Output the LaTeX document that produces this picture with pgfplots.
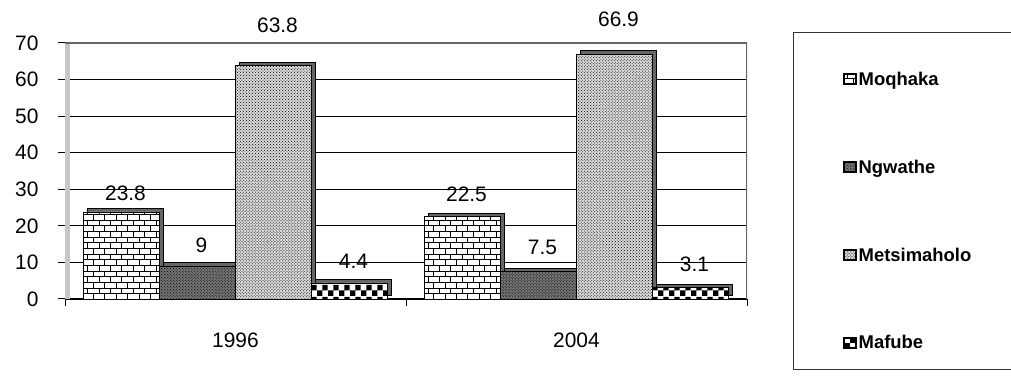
\documentclass[border=0pt]{standalone}
\usepackage{pgfplots}
\pgfplotsset{compat=1.18}
\usepackage{pgfplotstable}
\usepackage{fontspec}
\setmainfont{Liberation Sans}
\usetikzlibrary{patterns,shadows}

\pgfplotstableread{
x y dy
0 23.8 19
1 22.5 22
}\moq
\pgfplotstableread{
x y dy
0 9 21
1 7.5 24
}\ngw
\pgfplotstableread{
x y dy
0 63.8 40
1 66.9 35
}\met
\pgfplotstableread{
x y dy
0 4.4 22
1 3.1 23
}\maf

\makeatletter
\tikzset{no preactions/.code={\let\tikz@preactions\pgfutil@empty}}
\makeatother
\tikzset{
  barshade/.style={general shadow={fill=black!60, shadow xshift=3.5bp, shadow yshift=3.5bp}, draw=black, line width=0.8bp}
}
\pgfplotsset{
  legimg/.style 2 args={legend image code/.code={\draw[no preactions, preaction={fill=#1}, pattern=#2, draw=black, line width=2bp] (0bp,-5bp) rectangle (12bp,5bp);}}
}

\begin{document}
\begin{tikzpicture}
\useasboundingbox (0,0) rectangle (1011bp,376bp);
\begin{axis}[
  at={(65bp,77bp)}, anchor=south west,
  width=682bp, height=256bp, scale only axis,
  xmin=-0.5, xmax=1.5, ymin=0, ymax=70,
  ybar=0pt, bar width=76bp,
  /pgf/number format/assume math mode=true,
  font=\fontsize{21}{23}\selectfont,
  axis x line*=bottom, axis y line*=left,
  axis line style={black, line width=1bp},
  xtick={-0.5,0.5,1.5}, xticklabels={},
  extra x ticks={0,1}, extra x tick labels={1996,2004},
  extra x tick style={major tick length=0pt, tick label style={yshift=-30bp}},
  ytick={0,10,...,70},
  tick align=outside, major tick length=7bp,
  tick style={black, line width=1bp},
  yticklabel style={xshift=-16bp},
  ymajorgrids, major grid style={black, line width=1.2bp},
  nodes near coords,
  visualization depends on={\thisrow{dy} \as \dy},
  every node near coord/.append style={anchor=center, yshift=\dy bp, xshift=4bp, font=\fontsize{21}{23}\selectfont},
  legend style={at={(axis description cs:1.14,0.895)}, anchor=north west, draw=none, fill=none,
    row sep=69bp, font=\bfseries\fontsize{18.5}{20}\selectfont, inner sep=0pt, cells={anchor=west}},
]
\fill[gray!45] (rel axis cs:0,0) rectangle ([xshift=5bp]rel axis cs:0,1);
\draw[gray!80!black, line width=1.5bp] (rel axis cs:0,1) -- (rel axis cs:1,1) -- (rel axis cs:1,0);
\addplot[barshade, preaction={fill=white}, pattern=bricks, legimg={white}{bricks}] table[x=x,y=y] {\moq};
\addlegendentry{Moqhaka}
\addplot[barshade, preaction={fill=black!55}, pattern=crosshatch dots, legimg={black!55}{crosshatch dots}] table[x=x,y=y] {\ngw};
\addlegendentry{Ngwathe}
\addplot[barshade, preaction={fill=gray!30}, pattern=crosshatch dots, legimg={gray!30}{crosshatch dots}] table[x=x,y=y] {\met};
\addlegendentry{Metsimaholo}
\addplot[barshade, preaction={fill=white}, pattern=checkerboard, legimg={white}{checkerboard}] table[x=x,y=y] {\maf};
\addlegendentry{Mafube}
\end{axis}
\draw[black!80, line width=1bp] (793bp,6bp) rectangle (1013bp,343bp);
\end{tikzpicture}
\end{document}
